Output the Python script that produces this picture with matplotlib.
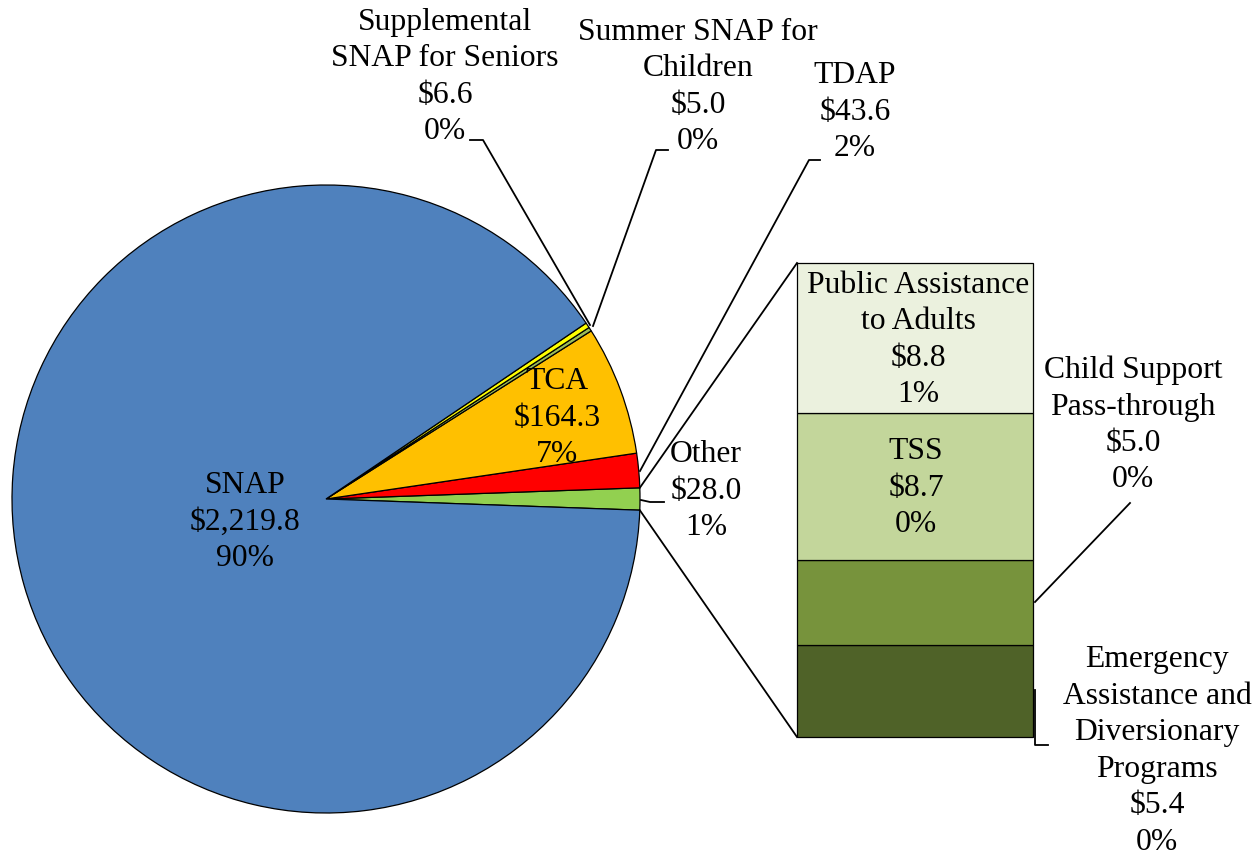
import numpy as np
import matplotlib.pyplot as plt

plt.rcParams["font.family"] = ["Liberation Serif", "DejaVu Serif"]

# pie slices, counterclockwise starting from the "Other" slice
pie_labels = ["Other", "TDAP", "TCA", "Summer SNAP for Children",
              "Supplemental SNAP for Seniors", "SNAP"]
pie_values = [28.0, 43.6, 164.3, 5.0, 6.6, 2219.8]
pie_pcts = ["1%", "2%", "7%", "0%", "0%", "90%"]
pie_colors = ["#92D050", "#FF0000", "#FFC000", "#9BBB59", "#FFFF00", "#4F81BD"]

# breakdown of "Other", bottom to top
bar_labels = ["Emergency Assistance and Diversionary Programs",
              "Child Support Pass-through", "TSS", "Public Assistance to Adults"]
bar_values = [5.4, 5.0, 8.7, 8.8]
bar_pcts = ["0%", "0%", "0%", "1%"]
bar_colors = ["#4F6228", "#77933C", "#C3D69B", "#EBF1DE"]

W, H = 1258, 856


def Y(py):
    return H - py


fig = plt.figure(figsize=(12.58, 8.56), dpi=100)
ax = fig.add_axes([0, 0, 1, 1])

cx, cy, r = 326, Y(499), 314
total = sum(pie_values)
other_ang = 360 * pie_values[0] / total
ax.pie(pie_values, colors=pie_colors, startangle=-other_ang / 2,
       counterclock=True, center=(cx, cy), radius=r, frame=True,
       wedgeprops=dict(edgecolor="black", linewidth=0.9))

# stacked bar for the breakdown
bx, bw = 915, 236
b_bottom, b_top = Y(737), Y(263)
scale = (b_top - b_bottom) / sum(bar_values)
bottom = b_bottom
for v, c in zip(bar_values, bar_colors):
    ax.bar(bx, v * scale, width=bw, bottom=bottom, color=c,
           edgecolor="black", linewidth=0.9)
    bottom += v * scale

# connector lines from "Other" slice to bar
t1 = np.radians(other_ang / 2)
ax.plot([cx + r * np.cos(t1), bx - bw / 2], [cy + r * np.sin(t1), b_top],
        color="black", lw=1.3)
ax.plot([cx + r * np.cos(-t1), bx - bw / 2], [cy + r * np.sin(-t1), b_bottom],
        color="black", lw=1.3)

fs = 22.8
ls = 1.34


def lab(x, py, s):
    ax.text(x, Y(py), s, ha="center", va="center", fontsize=fs,
            linespacing=ls)


def money(v):
    return f"${v:,.1f}"


lab(245, 522, f"{pie_labels[5]}\n{money(pie_values[5])}\n{pie_pcts[5]}")
lab(557, 418, f"{pie_labels[2]}\n{money(pie_values[2])}\n{pie_pcts[2]}")
lab(706, 491, f"{pie_labels[0]}\n{money(pie_values[0])}\n{pie_pcts[0]}")
lab(855, 112, f"{pie_labels[1]}\n{money(pie_values[1])}\n{pie_pcts[1]}")
lab(445, 77, "Supplemental\nSNAP for Seniors\n"
    f"{money(pie_values[4])}\n{pie_pcts[4]}")
lab(698, 87, "Summer SNAP for\nChildren\n"
    f"{money(pie_values[3])}\n{pie_pcts[3]}")
lab(918, 340, "Public Assistance\nto Adults\n"
    f"{money(bar_values[3])}\n{bar_pcts[3]}")
lab(916, 488, f"{bar_labels[2]}\n{money(bar_values[2])}\n{bar_pcts[2]}")
lab(1133, 425, "Child Support\nPass-through\n"
    f"{money(bar_values[1])}\n{bar_pcts[1]}")
lab(1157, 751, "Emergency\nAssistance and\nDiversionary\nPrograms\n"
    f"{money(bar_values[0])}\n{bar_pcts[0]}")

# leader lines
k = dict(color="black", lw=1.3)
ax.plot([470, 483, 590], [Y(140), Y(140), Y(325)], **k)
ax.plot([668, 656, 593], [Y(150), Y(150), Y(326)], **k)
ax.plot([820, 809, 640], [Y(160), Y(160), Y(471)], **k)
ax.plot([641, 650, 664], [Y(500), Y(502), Y(502)], **k)
ax.plot([1035, 1130], [Y(602), Y(503)], **k)
ax.plot([1035, 1035, 1048], [Y(690), Y(745), Y(745)], **k)

ax.set_xlim(0, W)
ax.set_ylim(0, H)
ax.set_aspect("auto")
ax.axis("off")

fig.savefig("out.png", dpi=100)
